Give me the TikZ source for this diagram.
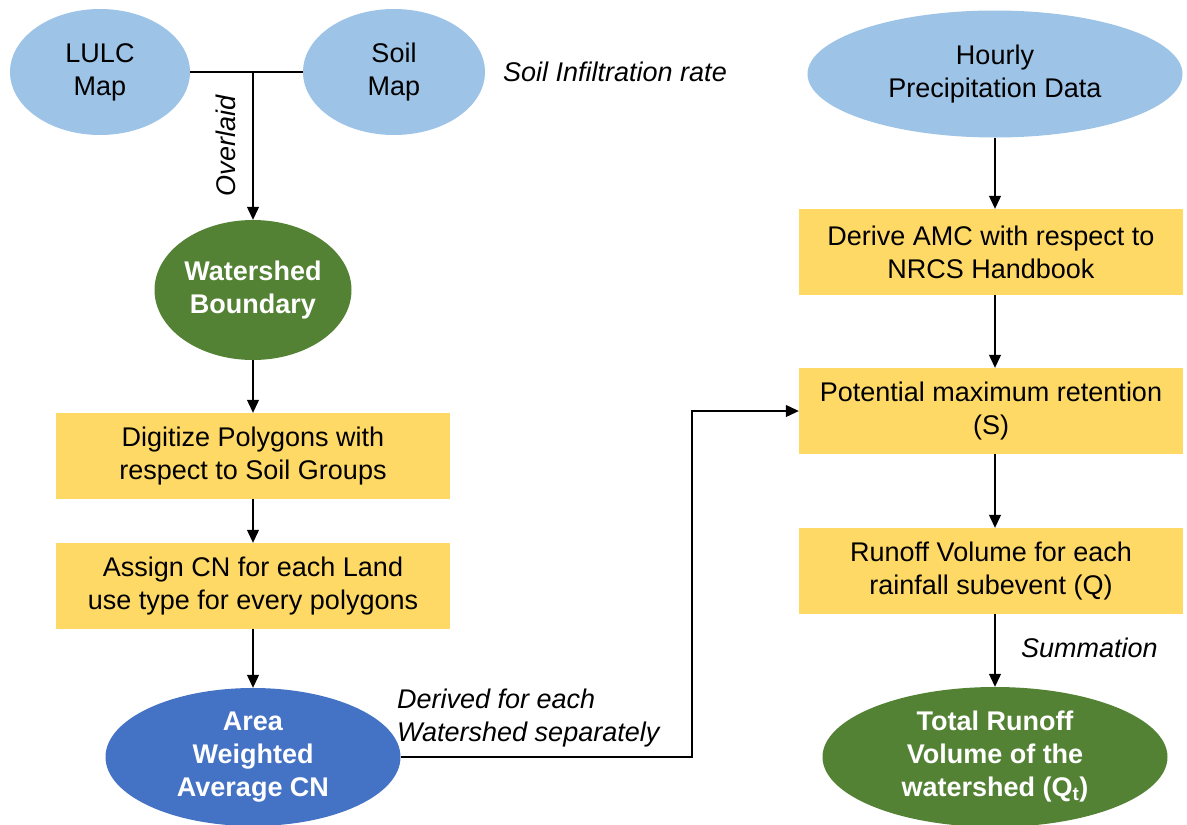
\documentclass[tikz,border=0pt]{standalone}
\usepackage{fontspec}
\setmainfont{Liberation Sans}
\usetikzlibrary{shapes.geometric,arrows.meta}

\definecolor{mapblue}{HTML}{9DC3E6}
\definecolor{leafgreen}{HTML}{548235}
\definecolor{deepblue}{HTML}{4472C4}
\definecolor{boxyellow}{HTML}{FFD966}

\begin{document}
\begin{tikzpicture}[x=1pt,y=-1pt,
  font=\fontsize{27}{33}\selectfont,
  every node/.style={align=center,inner sep=0pt},
  inputmap/.style={ellipse,fill=mapblue,text=black},
  result/.style={ellipse,fill=leafgreen,text=white,font=\fontsize{27}{33}\selectfont\bfseries},
  weighted/.style={ellipse,fill=deepblue,text=white,font=\fontsize{27}{33}\selectfont\bfseries},
  process/.style={rectangle,fill=boxyellow,text=black,minimum width=384pt,minimum height=86pt},
  note/.style={font=\fontsize{27}{33}\selectfont\itshape},
  link/.style={draw=black,line width=1.1pt},
  flow/.style={link,-{Triangle[length=13pt,width=12pt]}}]

\useasboundingbox (0,0) rectangle (1187,825);

% left column
\node[inputmap,minimum width=180pt,minimum height=126pt] (lulc) at (100,72) {LULC\\Map};
\node[inputmap,minimum width=182pt,minimum height=126pt] (soil) at (394,72) {Soil\\Map};
\node[note,anchor=west] (infil) at (503,72) {Soil Infiltration rate};
\node[result,minimum width=197pt,minimum height=140pt] (ws) at (253,290) {Watershed\\Boundary};
\node[process,minimum width=394pt] (digit) at (253,456) {Digitize Polygons with\\respect to Soil Groups};
\node[process,minimum width=394pt] (assign) at (253,586) {Assign CN for each Land\\use type for every polygons};
\node[weighted,minimum width=295pt,minimum height=138pt] (area) at (253,757) {Area\\Weighted\\Average CN};

% right column
\node[inputmap,minimum width=375pt,minimum height=127pt] (precip) at (995,74) {Hourly\\Precipitation Data};
\node[process] (amc) at (991,252) {Derive AMC with respect to\\NRCS Handbook};
\node[process] (pot) at (991,411) {Potential maximum retention\\(S)};
\node[process] (runoff) at (991,571) {Runoff Volume for each\\rainfall subevent (Q)};
\node[result,minimum width=345pt,minimum height=140pt] (total) at (995,757) {Total Runoff\\Volume of the\\watershed (Q\textsubscript{t})};

% labels beside the connectors
\node[note,rotate=90] (overlaid) at (226,146) {Overlaid};
\node[note,anchor=west,align=left] (derived) at (397,718) {Derived for each\\Watershed separately};
\node[note,anchor=west] (summ) at (1021,648) {Summation};

% junction and bend points
\coordinate (join) at (253,71);
\coordinate (bend) at (692,0);
\coordinate (rx) at (995,0);

% connectors
\draw[link] (lulc.east) -- (soil.west);
\draw[flow] (join) -- (ws.north);
\draw[flow] (ws.south) -- (digit.north);
\draw[flow] (digit.south) -- (assign.north);
\draw[flow] (assign.south) -- (area.north);
\draw[flow] (area.east) -- (area.east -| bend) |- (pot.west);

\draw[flow] (precip.south -| rx) -- (amc.north -| rx);
\draw[flow] (amc.south -| rx) -- (pot.north -| rx);
\draw[flow] (pot.south -| rx) -- (runoff.north -| rx);
\draw[flow] (runoff.south -| rx) -- (total.north);
\end{tikzpicture}
\end{document}
